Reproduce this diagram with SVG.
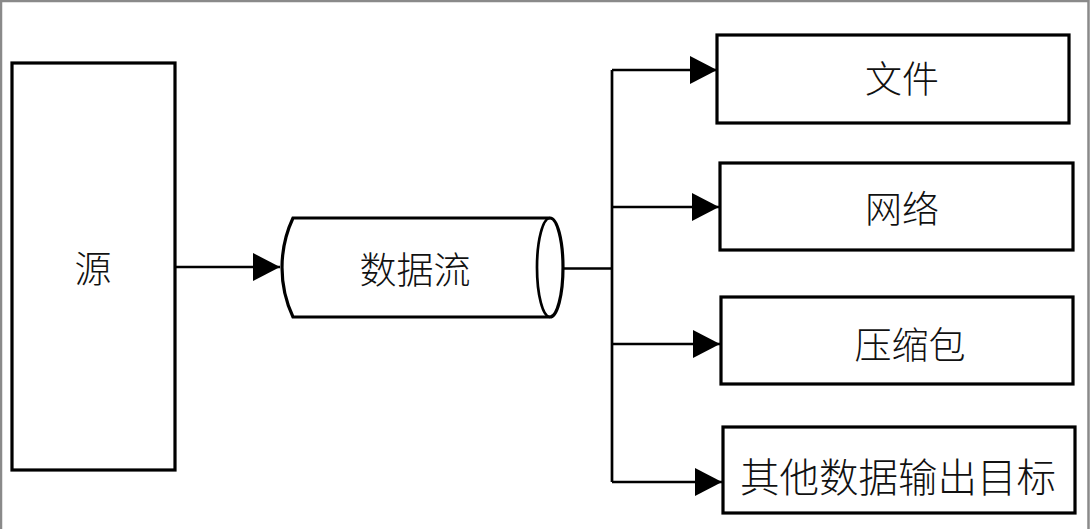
<svg xmlns="http://www.w3.org/2000/svg" width="1090" height="529" viewBox="0 0 1090 529">
<style>
.box{fill:#fff;stroke:#000;stroke-width:3.2}
.ln{fill:none;stroke:#000;stroke-width:2.7}
.t{font-family:"Noto Sans CJK SC","Noto Sans CJK JP",sans-serif;font-size:37px;fill:#111;text-anchor:middle;dominant-baseline:central;font-weight:300}
</style>
<defs>
<marker id="ah" markerWidth="27" markerHeight="28" refX="27" refY="14" orient="auto" markerUnits="userSpaceOnUse">
<path d="M0,0 L27,14 L0,28 Z" fill="#000"/>
</marker>
</defs>
<rect x="0" y="0" width="1090" height="529" fill="#fff"/>
<path d="M1,529 V1 H1088.5 V529" fill="none" stroke="#8a8a8a" stroke-width="2.5"/>
<g id="source">
<rect class="box" x="12" y="63" width="163" height="407"/>
<text class="t" x="93" y="267">源</text>
</g>
<g id="stream">
<path class="box" d="M293,218 H550 A13,49.5 0 0 1 550,317 H293 A117,117 0 0 1 293,218 Z"/>
<path class="ln" d="M550,218 A13,49.5 0 0 0 550,317"/>
<text class="t" x="415" y="268">数据流</text>
</g>
<g id="file">
<rect class="box" x="717" y="35" width="352" height="88"/>
<text class="t" x="902" y="77">文件</text>
</g>
<g id="network">
<rect class="box" x="720" y="163" width="353" height="87"/>
<text class="t" x="902" y="207">网络</text>
</g>
<g id="archive">
<rect class="box" x="721" y="297" width="352" height="87"/>
<text class="t" x="910" y="343">压缩包</text>
</g>
<g id="other">
<rect class="box" x="723" y="427" width="352" height="86"/>
<text class="t" x="898" y="474" style="font-size:39.5px">其他数据输出目标</text>
</g>
<g id="connectors">
<path class="ln" d="M175,267 H280" marker-end="url(#ah)"/>
<path class="ln" d="M563,268.5 H612"/>
<path class="ln" d="M612,70 V482"/>
<path class="ln" d="M612,70 H717" marker-end="url(#ah)"/>
<path class="ln" d="M612,207 H719" marker-end="url(#ah)"/>
<path class="ln" d="M612,344 H720" marker-end="url(#ah)"/>
<path class="ln" d="M612,482 H722" marker-end="url(#ah)"/>
</g>
</svg>
